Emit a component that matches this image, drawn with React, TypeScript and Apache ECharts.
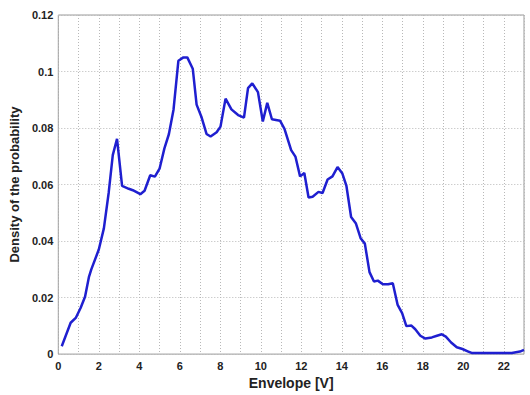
import React, { useEffect, useRef } from "react";
import * as echarts from "echarts";

const envelopeV = [
  0.17, 0.61, 0.86, 1.1, 1.32, 1.51, 1.63, 2.0, 2.25, 2.49, 2.69, 2.9, 3.15, 3.48, 3.68, 4.05, 4.26,
  4.54, 4.77, 5.0, 5.24, 5.46, 5.69, 5.93, 6.18, 6.37, 6.64, 6.83, 7.08, 7.32, 7.52, 7.82, 8.01,
  8.26, 8.55, 8.88, 9.17, 9.37, 9.58, 9.86, 10.1, 10.32, 10.55, 10.95, 11.17, 11.5, 11.71, 11.94,
  12.15, 12.36, 12.56, 12.85, 13.05, 13.3, 13.54, 13.79, 14.03, 14.23, 14.46, 14.7, 14.93, 15.14,
  15.37, 15.59, 15.78, 16.03, 16.29, 16.52, 16.76, 16.98, 17.19, 17.44, 17.63, 17.88, 18.13, 18.45,
  18.7, 18.94, 19.14, 19.4, 19.68, 19.96, 20.22, 20.41, 21.4, 22.4, 22.8, 23.0,
];

const density = [
  0.0028, 0.0111, 0.0128, 0.0163, 0.0203, 0.0272, 0.03, 0.037, 0.0445, 0.0572, 0.0704, 0.0762,
  0.0595, 0.0585, 0.058, 0.0566, 0.0578, 0.0633, 0.0628, 0.0656, 0.0728, 0.0778, 0.0865, 0.1038,
  0.105, 0.105, 0.101, 0.0883, 0.0837, 0.0779, 0.077, 0.0785, 0.0805, 0.0904, 0.0866, 0.0846,
  0.0837, 0.0941, 0.0958, 0.0927, 0.0823, 0.0889, 0.0831, 0.0826, 0.0797, 0.0722, 0.0699, 0.0629,
  0.0641, 0.0554, 0.0557, 0.0574, 0.057, 0.0618, 0.0629, 0.0662, 0.0639, 0.0595, 0.0485, 0.0462,
  0.041, 0.0391, 0.029, 0.0257, 0.026, 0.0247, 0.0247, 0.0251, 0.0174, 0.0145, 0.0099, 0.0101,
  0.0088, 0.0065, 0.0055, 0.0059, 0.0065, 0.007, 0.0062, 0.0041, 0.0024, 0.0018, 0.001, 0.0004,
  0.0004, 0.0004, 0.0009, 0.0015,
];

const xTickLabels = ["0", "2", "4", "6", "8", "10", "12", "14", "16", "18", "20", "22"];
const yTickLabels = ["0", "0.02", "0.04", "0.06", "0.08", "0.1", "0.12"];

const FONT = "'Liberation Sans', Arial, sans-serif";

export default function App() {
  const ref = useRef<HTMLDivElement>(null);
  useEffect(() => {
    document.body.style.margin = "0";
    if (!ref.current) return;
    const chart = echarts.init(ref.current, undefined, { renderer: "svg" });
    const data = envelopeV.map((x, i) => [x, density[i]]);
    const gridLine = { show: true, lineStyle: { color: "#b8b8b8", type: [1, 2] as any, width: 1 } };
    chart.setOption({
      animation: false,
      backgroundColor: "#ffffff",
      grid: {
        left: 57,
        top: 15,
        right: 6,
        bottom: 33,
        show: true,
        borderColor: "#9a9a9a",
        borderWidth: 1,
        backgroundColor: "transparent",
      },
      xAxis: {
        type: "value",
        min: 0,
        max: 23,
        interval: 1,
        name: "Envelope [V]",
        nameLocation: "middle",
        nameGap: 21,
        nameTextStyle: { fontFamily: FONT, fontWeight: "bold", fontSize: 14, color: "#222" },
        axisLine: { show: false },
        axisTick: { show: false },
        axisLabel: {
          fontFamily: FONT,
          fontWeight: "bold",
          fontSize: 11,
          color: "#222",
          margin: 6,
          formatter: (v: number) => {
            const s = String(Math.round(v));
            return xTickLabels.includes(s) ? s : "";
          },
        },
        splitLine: gridLine,
      },
      yAxis: {
        type: "value",
        min: 0,
        max: 0.12,
        interval: 0.02,
        name: "Density of the probability",
        nameLocation: "middle",
        nameGap: 34,
        nameTextStyle: { fontFamily: FONT, fontWeight: "bold", fontSize: 13, color: "#222" },
        axisLine: { show: false },
        axisTick: { show: false },
        axisLabel: {
          fontFamily: FONT,
          fontWeight: "bold",
          fontSize: 11,
          color: "#222",
          margin: 5,
          formatter: (v: number) => {
            const idx = Math.round(v / 0.02);
            return yTickLabels[idx] ?? "";
          },
        },
        splitLine: gridLine,
      },
      series: [
        {
          type: "line",
          data,
          showSymbol: false,
          smooth: false,
          lineStyle: { color: "#1f1fd0", width: 2.5 },
        },
      ],
    });
    return () => chart.dispose();
  }, []);
  return <div ref={ref} style={{ width: 530, height: 395 }} />;
}
